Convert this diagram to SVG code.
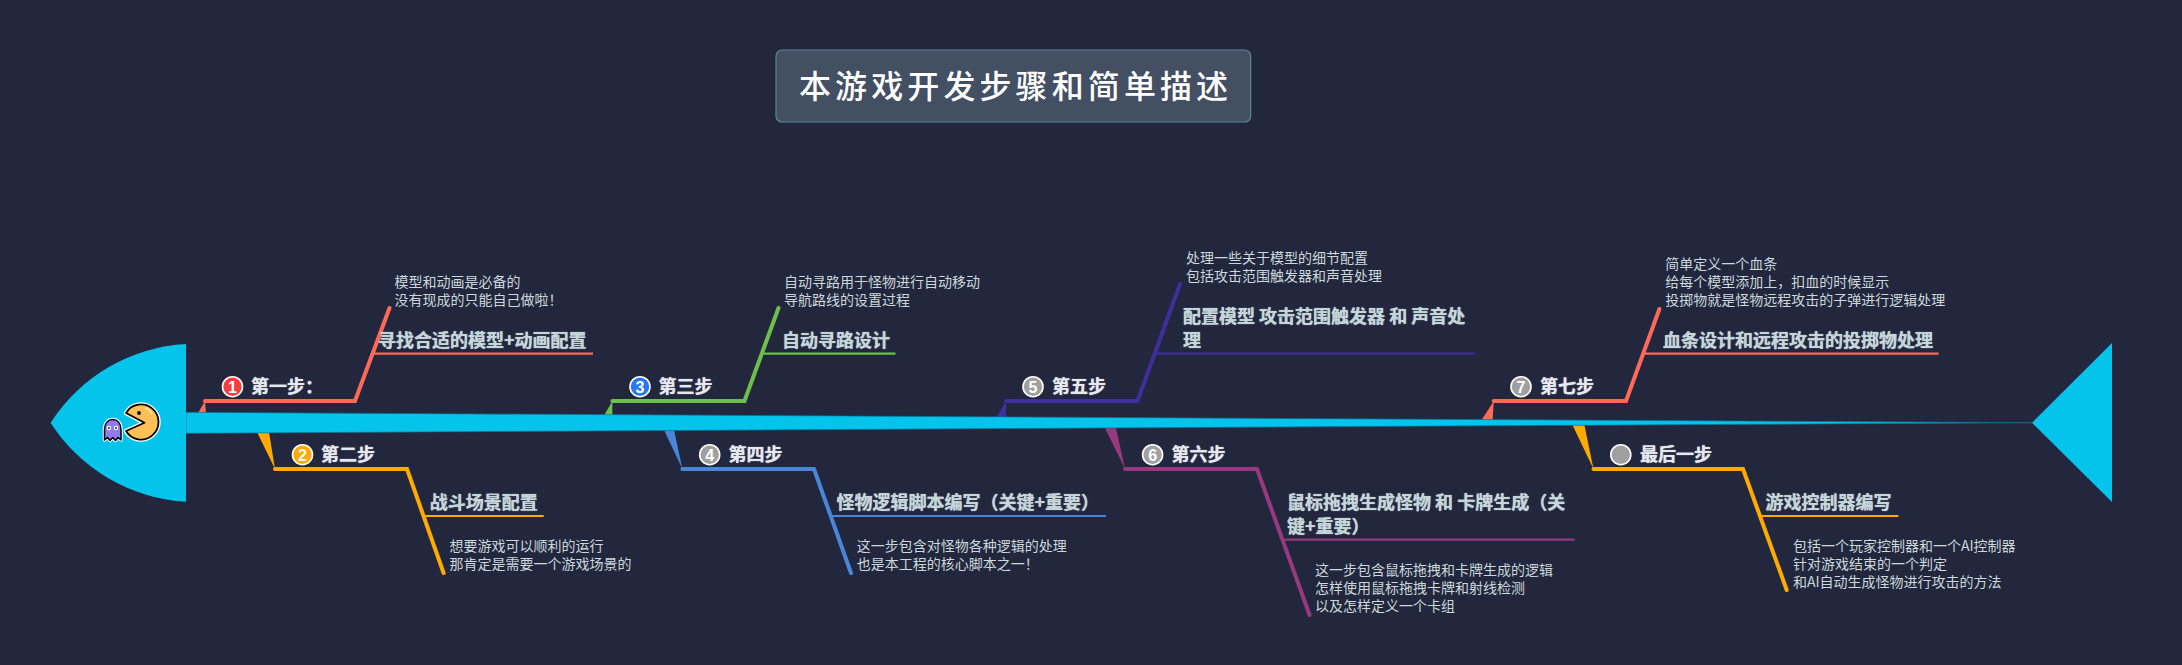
<svg xmlns="http://www.w3.org/2000/svg" width="2182" height="665" viewBox="0 0 2182 665">
<style>
text{font-family:"Noto Sans CJK SC","Noto Sans",sans-serif}
.step{font-size:18px;font-weight:700;fill:#e6e8ef;text-shadow:0 0 1px #e6e8ef}
.sub{font-size:18px;font-weight:700;fill:#c5d6da;text-shadow:0 0 1px #c5d6da}
.desc{font-size:14px;fill:#ccd8dc}
.num{font-size:16px;font-weight:700;fill:#fff;text-anchor:middle;font-family:"Liberation Sans",sans-serif}
.dot{stroke:#fff;stroke-width:1.6}
.gray{fill:#a0a0a0}
.line{fill:none;stroke-width:4;stroke-linejoin:miter;stroke-linecap:round}
.under{fill:none;stroke-width:2.2}
.fish{fill:#04c4eb}
</style>
<rect width="2182" height="665" fill="#22273d"/>
<g id="connectors">
<g id="c1" stroke="#ff6a58"><path d="M198 413L205 401L206 413Z" fill="#ff6a58" stroke="none"/><path class="line" d="M205 401H355L389.5 308"/><path class="under" d="M373.7 353.7H593"/></g>
<g id="c2" stroke="#ffaa00"><path d="M257 432L269 432L275 469Z" fill="#ffaa00" stroke="none"/><path class="line" d="M275 469H407L443.6 573"/><path class="under" d="M425 516H543.7"/></g>
<g id="c3" stroke="#6cc04a"><path d="M603.7 416L612.4 401L612.4 416Z" fill="#6cc04a" stroke="none"/><path class="line" d="M612.4 401H744.5L778.5 308"/><path class="under" d="M764 353.7H895.5"/></g>
<g id="c4" stroke="#4a86d8"><path d="M664 430L674 430L682.4 469Z" fill="#4a86d8" stroke="none"/><path class="line" d="M682.4 469H814L851 573"/><path class="under" d="M832 516H1106"/></g>
<g id="c5" stroke="#3f2f9a"><path d="M996 418L1006 401L1006 418Z" fill="#3f2f9a" stroke="none"/><path class="line" d="M1006 401H1137.5L1180 284"/><path class="under" d="M1156.5 353.7H1474.5"/></g>
<g id="c6" stroke="#96397f"><path d="M1105 428L1116 428L1125 469Z" fill="#96397f" stroke="none"/><path class="line" d="M1125 469H1257L1309.6 615"/><path class="under" d="M1284.7 539.7H1574.5"/></g>
<g id="c7" stroke="#ff6a58"><path d="M1481.6 420L1493.8 401L1492.6 420Z" fill="#ff6a58" stroke="none"/><path class="line" d="M1493.8 401H1626L1659.4 309"/><path class="under" d="M1644.5 353.7H1938.5"/></g>
<g id="c8" stroke="#ffaa00"><path d="M1572.5 425L1584.4 425L1593.5 469Z" fill="#ffaa00" stroke="none"/><path class="line" d="M1593.5 469H1743L1786.7 590"/><path class="under" d="M1762 516H1898.4"/></g>
</g>
<g id="spine"><path d="M186 412.3L2032 422.7L186 433.3Z" fill="#04c4eb" stroke="#0c6f90" stroke-width=".7"/></g>
<g id="head"><path class="fish" d="M50.6 422.7A172 172 0 0 1 186 344V501.7A172 172 0 0 1 50.6 422.7Z"/>
<g id="ghost"><path d="M104.5 440V430C104.500 423 108 419.500 112.700 419.500S121 423 121 430V440L118 437.500L115.500 440.500L112.700 437.500L110 440.500L107.500 437.500Z" fill="none" stroke="#fff" stroke-width="3.500" stroke-linejoin="round"/><path d="M104.5 440V430C104.500 423 108 419.500 112.700 419.500S121 423 121 430V440L118 437.500L115.500 440.500L112.700 437.500L110 440.500L107.500 437.500Z" fill="#8f7df0" stroke="#000" stroke-width="1.500" stroke-linejoin="round"/><circle cx="108.800" cy="428" r="2.200" fill="#fff"/><circle cx="116" cy="428" r="2.200" fill="#fff"/><circle cx="108.800" cy="428" r="1" fill="#223"/><circle cx="116" cy="428" r="1" fill="#223"/></g>
<g id="pacman"><path d="M126 413A17.500 17.500 0 1 1 126 431L144.500 422.700Z" fill="none" stroke="#fff" stroke-width="4.500" stroke-linejoin="round"/><path d="M126 413A17.500 17.500 0 1 1 126 431L144.500 422.700Z" fill="#ffc155" stroke="#000" stroke-width="1.800" stroke-linejoin="round"/><circle cx="139" cy="413" r="2" fill="#111"/><path d="M145 408Q150 410 152 414" fill="none" stroke="#ffe6b0" stroke-width="1.500"/></g>
</g>
<g id="tail"><path class="fish" d="M2032 422.700L2112 343V502Z"/></g>
<g id="title"><rect x="776" y="50" width="474.700" height="72" rx="6" fill="#434f63" stroke="#5a8797" stroke-width="1.200"/><text x="799" y="98" font-size="32" font-weight="500" letter-spacing="4.100" fill="#fff">本游戏开发步骤和简单描述</text></g>

<g id="n1"><circle class="dot" cx="232.500" cy="386.700" r="10" fill="#f04040"/><text class="num" x="232.500" y="392.500">1</text><text class="step" x="251" y="393">第一步：</text></g>
<g id="n1s"><text class="sub" x="378" y="347">寻找合适的模型+动画配置</text></g>
<g id="n1d"><text class="desc" x="394.600" y="287">模型和动画是必备的</text><text class="desc" x="394.600" y="305">没有现成的只能自己做啦！</text></g>

<g id="n2"><circle class="dot" cx="302.500" cy="454.700" r="10" fill="#ffaa00"/><text class="num" x="302.500" y="460.500">2</text><text class="step" x="321" y="461">第二步</text></g>
<g id="n2s"><text class="sub" x="429.800" y="509">战斗场景配置</text></g>
<g id="n2d"><text class="desc" x="449.600" y="551">想要游戏可以顺利的运行</text><text class="desc" x="449.600" y="569">那肯定是需要一个游戏场景的</text></g>

<g id="n3"><circle class="dot" cx="640" cy="386.700" r="10" fill="#2a78f0"/><text class="num" x="640" y="392.500">3</text><text class="step" x="658.500" y="393">第三步</text></g>
<g id="n3s"><text class="sub" x="782" y="347">自动寻路设计</text></g>
<g id="n3d"><text class="desc" x="784" y="287">自动寻路用于怪物进行自动移动</text><text class="desc" x="784" y="305">导航路线的设置过程</text></g>

<g id="n4"><circle class="dot gray" cx="709.700" cy="454.700" r="10"/><text class="num" x="709.700" y="460.500">4</text><text class="step" x="728.500" y="461">第四步</text></g>
<g id="n4s"><text class="sub" x="836.500" y="509">怪物逻辑脚本编写（关键+重要）</text></g>
<g id="n4d"><text class="desc" x="856.800" y="551">这一步包含对怪物各种逻辑的处理</text><text class="desc" x="856.800" y="569">也是本工程的核心脚本之一！</text></g>

<g id="n5"><circle class="dot gray" cx="1033" cy="386.700" r="10"/><text class="num" x="1033" y="392.500">5</text><text class="step" x="1052" y="393">第五步</text></g>
<g id="n5s"><text class="sub" x="1183" y="323">配置模型 攻击范围触发器 和 声音处</text><text class="sub" x="1183" y="347">理</text></g>
<g id="n5d"><text class="desc" x="1186" y="263">处理一些关于模型的细节配置</text><text class="desc" x="1186" y="281">包括攻击范围触发器和声音处理</text></g>

<g id="n6"><circle class="dot gray" cx="1152.600" cy="454.700" r="10"/><text class="num" x="1152.600" y="460.500">6</text><text class="step" x="1171.500" y="461">第六步</text></g>
<g id="n6s"><text class="sub" x="1287" y="509">鼠标拖拽生成怪物 和 卡牌生成（关</text><text class="sub" x="1287" y="533">键+重要）</text></g>
<g id="n6d"><text class="desc" x="1315" y="575">这一步包含鼠标拖拽和卡牌生成的逻辑</text><text class="desc" x="1315" y="593">怎样使用鼠标拖拽卡牌和射线检测</text><text class="desc" x="1315" y="611">以及怎样定义一个卡组</text></g>

<g id="n7"><circle class="dot gray" cx="1521" cy="386.700" r="10"/><text class="num" x="1521" y="392.500">7</text><text class="step" x="1540" y="393">第七步</text></g>
<g id="n7s"><text class="sub" x="1663" y="347">血条设计和远程攻击的投掷物处理</text></g>
<g id="n7d"><text class="desc" x="1665.300" y="269">简单定义一个血条</text><text class="desc" x="1665.300" y="287">给每个模型添加上，扣血的时候显示</text><text class="desc" x="1665.300" y="305">投掷物就是怪物远程攻击的子弹进行逻辑处理</text></g>

<g id="n8"><circle class="dot gray" cx="1620.800" cy="454.700" r="10"/><text class="step" x="1640" y="461">最后一步</text></g>
<g id="n8s"><text class="sub" x="1765.500" y="509">游戏控制器编写</text></g>
<g id="n8d"><text class="desc" x="1793" y="551">包括一个玩家控制器和一个AI控制器</text><text class="desc" x="1793" y="569">针对游戏结束的一个判定</text><text class="desc" x="1793" y="587">和AI自动生成怪物进行攻击的方法</text></g>
</svg>
